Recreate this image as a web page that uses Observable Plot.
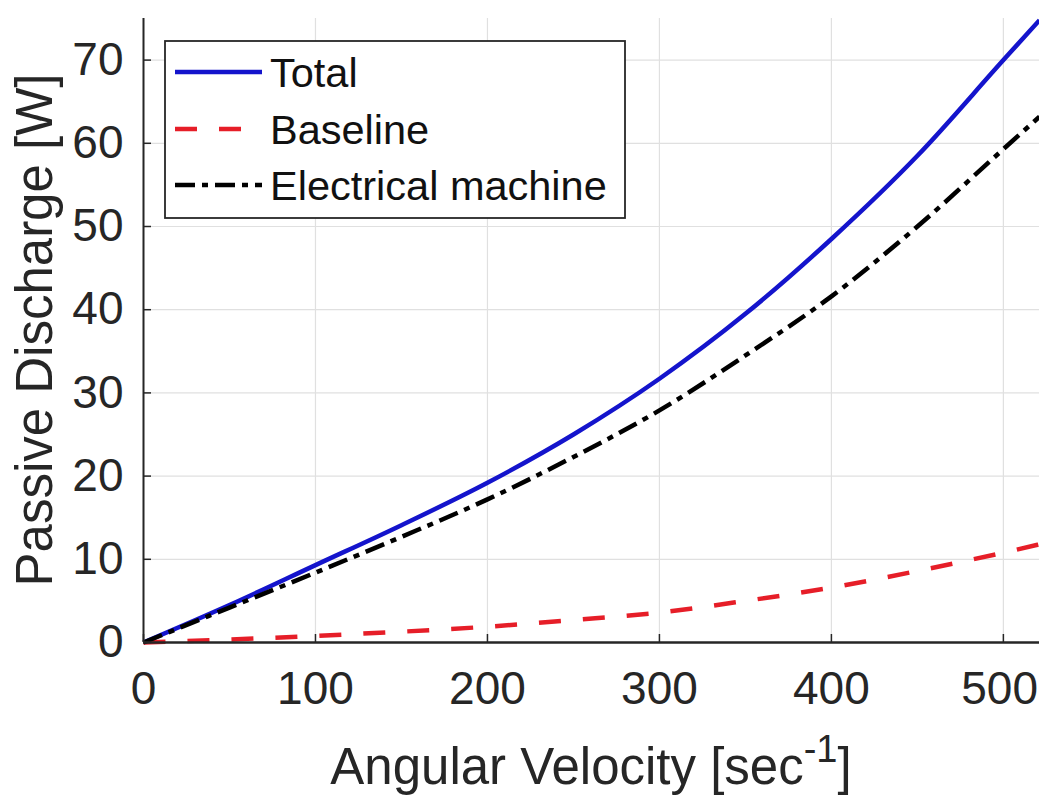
<!DOCTYPE html>
<html>
<head>
<meta charset="utf-8">
<script src="https://cdn.jsdelivr.net/npm/d3@7"></script>
<script src="https://cdn.jsdelivr.net/npm/@observablehq/plot@0.6"></script>
<style>
  html, body { margin: 0; padding: 0; background: #fff; }
  #chart { width: 1039px; height: 795px; }
</style>
</head>
<body>
<div id="chart"></div>
<script>
// ---- data ----
const angularVelocity = [0, 50, 100, 150, 200, 250, 300, 350, 400, 450, 500, 521];
const totalW          = [0, 4.5, 9.3, 14.1, 19.2, 25.0, 31.7, 39.5, 48.5, 58.5, 70.0, 74.8];
const baselineW       = [0, 0.35, 0.8, 1.3, 1.9, 2.7, 3.6, 5.0, 6.6, 8.6, 10.8, 11.8];
const machineW        = [0, 4.2, 8.4, 12.7, 17.2, 22.3, 27.9, 34.5, 41.6, 50.0, 59.3, 63.2];

const seriesNames = ["Total", "Baseline", "Electrical machine"];
const xTicks = [0, 100, 200, 300, 400, 500];
const yTicks = [0, 10, 20, 30, 40, 50, 60, 70];
const xLabel = "Angular Velocity [sec";
const xLabelSup = "-1";
const yLabel = "Passive Discharge [W]";

const styles = {
  "Total": {stroke: "#1414cc", dash: null},
  "Baseline": {stroke: "#e61e28", dash: "22,22"},
  "Electrical machine": {stroke: "#000000", dash: "20,7,6,7"}
};

const seriesValues = {"Total": totalW, "Baseline": baselineW, "Electrical machine": machineW};
const rows = seriesNames.flatMap(name =>
  angularVelocity.map((v, i) => ({series: name, x: v, y: seriesValues[name][i]})));

const W = 1039, H = 795;
const font = "'Liberation Sans', Arial, Helvetica, sans-serif";
const axisColor = "#262626";

const lineMarks = seriesNames.map(name =>
  Plot.line(rows.filter(d => d.series === name), {
    x: "x", y: "y", curve: "monotone-x",
    stroke: styles[name].stroke, strokeWidth: 4.5,
    strokeDasharray: styles[name].dash, strokeLinecap: "butt"
  }));

const svg = Plot.plot({
  width: W, height: H,
  marginLeft: 143, marginRight: 0, marginTop: 18, marginBottom: 153,
  style: {fontFamily: font, background: "#fff", color: axisColor},
  x: {domain: [0, 521], label: null},
  y: {domain: [0, 75], label: null},
  marks: [
    Plot.gridX(xTicks, {stroke: "#e0e0e0", strokeOpacity: 1, strokeWidth: 1.2}),
    Plot.gridY(yTicks, {stroke: "#e0e0e0", strokeOpacity: 1, strokeWidth: 1.2}),
    ...lineMarks,
    Plot.ruleX([0], {stroke: axisColor, strokeWidth: 2}),
    Plot.ruleY([0], {stroke: axisColor, strokeWidth: 2.5}),
    Plot.axisX(xTicks, {tickSize: -8, tickFormat: () => "", stroke: axisColor, strokeWidth: 1.5}),
    Plot.axisY(yTicks, {tickSize: -8, tickFormat: () => "", stroke: axisColor, strokeWidth: 1.5}),
    Plot.axisX(xTicks, {tickSize: 0, tickPadding: 29, fontSize: 46, fill: axisColor, label: null}),
    Plot.axisY(yTicks, {tickSize: 0, tickPadding: 20, fontSize: 46, fill: axisColor, label: null})
  ]
});

document.getElementById("chart").appendChild(svg);

// keep edge tick labels inside the picture
d3.select(svg).selectAll("text").each(function() {
  const b = this.getBBox();
  const m = this.getCTM();
  const right = m ? m.e + (b.x + b.width) * m.a : b.x + b.width;
  if (right > W - 1) {
    d3.select(this).attr("dx", (+(this.getAttribute("dx")) || 0) - (right - (W - 1)));
  }
});

// ---- axis titles & legend ----
const sx = svg.scale("x"), sy = svg.scale("y");
const s = d3.select(svg);
const xMid = (sx.range[0] + sx.range[1]) / 2;
const yMid = (sy.range[0] + sy.range[1]) / 2;

const xt = s.append("text")
  .attr("x", xMid).attr("y", 784)
  .attr("text-anchor", "middle")
  .attr("font-family", font).attr("font-size", 51).attr("fill", axisColor);
xt.append("tspan").text(xLabel);
xt.append("tspan").attr("dy", -22).attr("font-size", 38).text(xLabelSup);
xt.append("tspan").attr("dy", 22).attr("font-size", 51).text("]");

s.append("text")
  .attr("transform", `translate(52,${yMid}) rotate(-90)`)
  .attr("text-anchor", "middle")
  .attr("font-family", font).attr("font-size", 51).attr("fill", axisColor)
  .text(yLabel);

const lg = s.append("g");
lg.append("rect")
  .attr("x", 165).attr("y", 41).attr("width", 460).attr("height", 177)
  .attr("fill", "#fff").attr("stroke", axisColor).attr("stroke-width", 1.8);
const rowY = [72, 129, 185];
seriesNames.forEach((name, i) => {
  lg.append("line")
    .attr("x1", 175).attr("x2", 262).attr("y1", rowY[i]).attr("y2", rowY[i])
    .attr("stroke", styles[name].stroke).attr("stroke-width", 4.5)
    .attr("stroke-dasharray", styles[name].dash);
  lg.append("text")
    .attr("x", 270).attr("y", rowY[i]).attr("dy", "0.35em")
    .attr("text-anchor", "start")
    .attr("font-family", font).attr("font-size", 41.5).attr("fill", "#111")
    .text(name);
});
</script>
</body>
</html>
